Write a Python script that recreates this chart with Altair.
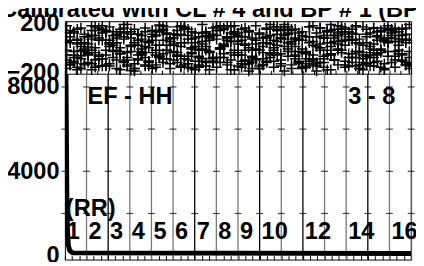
import altair as alt
import pandas as pd
import numpy as np

FONT = "Liberation Sans"
FS = 24
title_text = "Calibrated with CL # 4 and BP # 1 (BP # 1)"

# ---- top panel: scattered "+" samples (several sample series, values read by eye) ----
s1 = [-170,-140,-125,-80,-65,-10,5,70,100,160,150,130,60,40,-20,-50,-120,-140,-185,-130,-100,-30,10,40,110,130,185,140,110,50,20,-40,-70,-140,-160,-170,-110,-80,-10,10,80,110,170,180,150,80,50,-20,-40,-110,-140,-190,-120,-90,-20,10,80,100,170,170,140,70,40,-30,-60,-130,-160,-160,-90,-60,10,30,100,130,190,150,120,50,20,-50,-80,-150,-170,-140,-70,-40,30,60,130,160,150,80,50,-20,-50,-120,-150]
s2 = [120,40,-80,150,10,-130,90,-20,170,-60,60,-150,30,130,-100,0,160,-40,80,-170,110,-10,50,-120,140,20,-70,180,-90,70,-30,100,-160,40,150,-50,10,-140,120,-20,90,-110,170,0,-80,60,-180,130,30,-60,160,-130,80,-10,110,-90,40,190,-40,20,-150,100,-70,140,10,-120,60,-30,170,-100,90,0,-160,130,-50,50,-20,150,-140,70,120,-80,30,-180,110,-10,160,-60,80,-130,40,140,-30,100,-110,60,-170]
s3 = [-100,-140,-60,-180,-20,40,-120,100,-40,60,-90,140,-150,20,80,-30,120,-80,10,-170,60,-40,130,-110,90,-60,20,150,-20,-130,110,-70,40,170,-100,0,80,-150,30,130,-40,-90,70,-10,160,-120,50,-60,100,-160,20,140,-80,60,-20,-140,90,30,-110,150,-50,10,120,-170,70,-30,100,-90,40,180,-130,0,80,-60,140,-100,30,-20,110,-150,60,170,-40,-120,90,10,-80,130,-10,-170,50,150,-70,20,100,-140,70]
s4 = [50,90,130,70,160,110,30,180,140,80,120,60,170,100,40,150,90,190,130,20,110,70,160,50,140,100,180,60,120,80,30,170,110,150,70,130,40,90,190,120,60,160,100,140,30,80,170,110,50,150,90,130,70,180,120,40,160,100,60,140,80,190,110,30,150,70,130,90,170,50,120,160,80,140,40,100,180,60,130,90,150,110,70,170,40,120,160,90,140,60,180,100,130,70,150,110,190]
s5 = [-60,-120,-30,-160,-90,-140,-40,-180,-100,-70,-150,-20,-130,-80,-170,-50,-110,-150,-30,-190,-90,-60,-140,-110,-40,-160,-80,-120,-20,-170,-100,-60,-150,-90,-130,-40,-180,-70,-110,-150,-30,-120,-160,-80,-50,-140,-100,-180,-60,-130,-20,-110,-170,-90,-150,-40,-120,-80,-160,-60,-100,-190,-30,-140,-70,-110,-170,-50,-130,-90,-150,-20,-120,-180,-60,-100,-140,-40,-160,-80,-120,-30,-170,-90,-130,-60,-150,-110,-40,-180,-70,-120,-160,-50,-100,-140,-80]
s6 = [180,140,120,60,40,-30,-60,-130,-160,-150,-90,-60,10,40,100,130,190,130,110,40,20,-50,-80,-150,-170,-140,-70,-50,20,50,110,140,180,160,100,70,10,-20,-90,-120,-180,-110,-80,-10,20,90,120,180,120,90,30,0,-70,-100,-170,-140,-110,-50,-20,50,80,150,170,150,80,60,-10,-40,-110,-140,-190,-120,-90,-20,10,80,100,170,160,130,60,40,-30,-60,-130,-150,-120,-50,-20,50,80,140,160,130,70,40,-30]
s7 = [-20,60,-110,30,-170,90,-50,140,0,-90,180,-140,40,-30,110,-180,70,-100,20,150,-60,100,-150,0,60,-20,130,-90,170,-40,80,-120,10,160,-70,-10,120,-160,50,100,-30,-80,140,-120,10,180,-40,90,-150,60,-100,130,-20,30,-170,80,150,-60,0,110,-130,170,-10,50,-90,120,-40,-150,90,20,-120,160,-70,40,-180,100,-10,130,-110,60,-50,180,-140,20,150,-80,-20,100,-160,70,-30,120,-100,50,-60,160,-130]
sample_series = [s1, s2, s3, s4, s5, s6, s7]
sample_start, sample_end = 0.08, 15.92

# ---- bottom panel ----
beat_lines = list(range(1, 17))
beat_line_colors = ["#777777", "#000000", "#777777", "#777777", "#777777", "#000000",
                    "#777777", "#777777", "#000000", "#777777", "#000000", "#777777",
                    "#777777", "#000000", "#777777", "#777777"]
dash_levels = [2000, 4000, 6000, 8000]
dash_x = list(range(0, 17))

rr_x = [0.05, 0.07, 0.09, 0.12, 0.16, 0.22, 0.35, 16.0]
rr_y = [8600, 6000, 3000, 1200, 500, 250, 130, 100]

beat_labels = ["1", "2", "3", "4", "5", "6", "7", "8", "9", "10", "12", "14", "16"]
beat_label_x = [0, 1, 2, 3, 4, 5, 6, 7, 8, 9, 11, 13, 15]
beat_label_y = 1120

note_text = ["EF - HH", "3 - 8", "(RR)"]
note_x = [1.0, 13.05, 0.0]
note_y = [7510, 7510, 2190]

# ---- data tables ----
rows = []
for s in sample_series:
    xs = np.linspace(sample_start, sample_end, len(s))
    for xv, yv in zip(xs, s):
        rows.append({"x": float(xv), "v": yv})
df_top = pd.DataFrame(rows)
df_lines = pd.DataFrame({"x": beat_lines, "c": beat_line_colors})
df_dash = pd.DataFrame([{"x": xv, "v": lv} for xv in dash_x for lv in dash_levels])
df_rr = pd.DataFrame({"x": rr_x, "v": rr_y})
df_lab = pd.DataFrame({"x": beat_label_x, "v": [beat_label_y] * len(beat_labels), "t": beat_labels})
df_note = pd.DataFrame({"x": note_x, "v": note_y, "t": note_text})
df_title = pd.DataFrame({"t": [title_text]})

W, H, HT = 353, 243, 54
XS = alt.Scale(domain=[0, 16], nice=False, zero=False)
YT = alt.Scale(domain=[-216, 216], range=[HT, 0], nice=False, zero=False)
YB = alt.Scale(domain=[-186, 8605], range=[H, HT], nice=False, zero=False)

lab_style = dict(labelFont=FONT, labelFontSize=FS, labelFontWeight="bold", labelColor="black",
                 ticks=False, domain=False, grid=False, title=None, labelPadding=6, format="d")

top = alt.Chart(df_top).mark_point(
    shape="M-1,0L1,0M0,-1L0,1", filled=False, size=115, stroke="black",
    strokeWidth=1.5, opacity=1, clip=True
).encode(
    x=alt.X("x:Q", scale=XS, axis=alt.Axis(orient="top", offset=-HT,
            values=[k * 0.5 for k in range(33)], tickSize=4, tickColor="black",
            labels=False, domain=False, grid=False, title=None)),
    y=alt.Y("v:Q", scale=YT, axis=alt.Axis(orient="left", values=[-200, 200], **lab_style)),
)

sep = alt.Chart(pd.DataFrame({"a": [0]})).mark_rule(color="black", strokeWidth=1).encode(
    x=alt.value(0), x2=alt.value(W), y=alt.value(HT))

vlines = alt.Chart(df_lines).mark_rule(strokeWidth=1.3).encode(
    x=alt.X("x:Q", scale=XS, axis=None),
    y=alt.value(HT), y2=alt.value(H),
    color=alt.Color("c:N", scale=None),
)

dashes = alt.Chart(df_dash).mark_point(
    shape="M-1,0L1,0", filled=False, size=49, stroke="black", strokeWidth=1.2
).encode(
    x=alt.X("x:Q", scale=XS, axis=None),
    y=alt.Y("v:Q", scale=YB, axis=None),
)

rr = alt.Chart(df_rr).mark_line(color="black", strokeWidth=5, clip=True).encode(
    x=alt.X("x:Q", scale=XS, axis=alt.Axis(orient="bottom", offset=-4,
            values=[k / 3 for k in range(49)], tickSize=4, tickColor="black",
            labels=False, domain=False, grid=False, title=None)),
    y=alt.Y("v:Q", scale=YB, axis=alt.Axis(orient="left", values=[0, 4000, 8000], **lab_style)),
)

labels = alt.Chart(df_lab).mark_text(
    font=FONT, fontSize=FS, fontWeight="bold", color="black", align="left",
    baseline="middle", dx=2
).encode(
    x=alt.X("x:Q", scale=XS, axis=None),
    y=alt.Y("v:Q", scale=YB, axis=None),
    text="t:N",
)

notes = alt.Chart(df_note).mark_text(
    font=FONT, fontSize=FS, fontWeight="bold", color="black", align="left",
    baseline="middle", dx=1
).encode(
    x=alt.X("x:Q", scale=XS, axis=None),
    y=alt.Y("v:Q", scale=YB, axis=None),
    text="t:N",
)

title_mark = alt.Chart(df_title).mark_text(
    font=FONT, fontSize=FS, fontWeight="bold", color="black", align="left",
    baseline="alphabetic"
).encode(
    x=alt.value(-66), y=alt.value(-4), text="t:N",
)

chart = alt.layer(top, sep, vlines, dashes, rr, labels, notes, title_mark).resolve_scale(
    y="independent"
).resolve_axis(
    x="independent", y="independent"
).properties(
    width=W, height=H,
    autosize=alt.AutoSizeParams(type="none"),
    padding={"left": 58, "top": 11, "right": 5, "bottom": 0},
    background="white",
).configure_view(stroke="black", strokeWidth=1)

chart.save("out.html", embed_options={"renderer": "svg", "actions": False})
